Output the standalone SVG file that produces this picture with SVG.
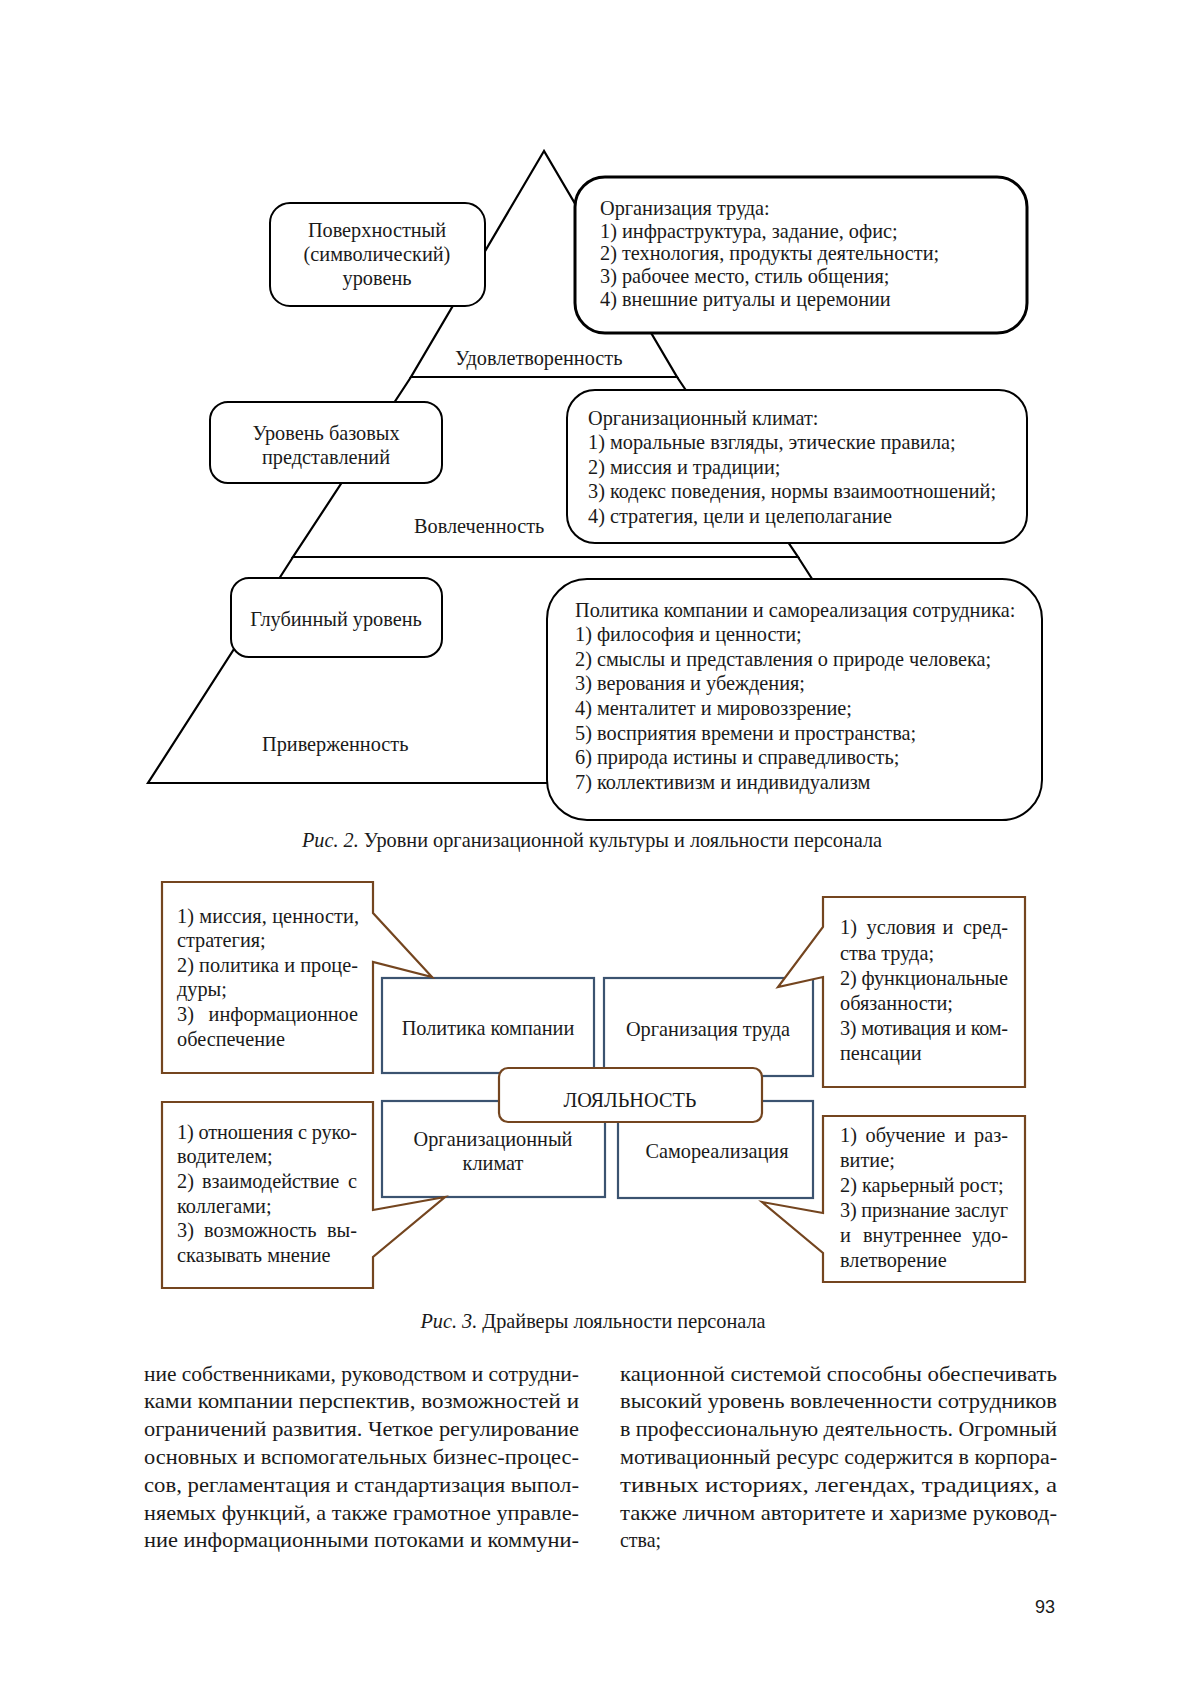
<svg xmlns="http://www.w3.org/2000/svg" width="1200" height="1697" viewBox="0 0 1200 1697">
<style>
text{font-family:"Liberation Serif","Times New Roman",serif;fill:#1a1a1a}
.t{font-size:20.3px}
.c{text-anchor:middle}
.e{text-anchor:end}
.pyr{fill:none;stroke:#000;stroke-width:2.2;stroke-linejoin:miter}
.rb{fill:#fff;stroke:#000;stroke-width:2}
.rb3{fill:#fff;stroke:#000;stroke-width:3}
.bl{fill:#fff;stroke:#3b5370;stroke-width:2.2}
.br{fill:#fff;stroke:#74451f;stroke-width:2.2;stroke-linejoin:miter}
.body{font-size:22px}
.pg{font-family:"Liberation Sans",Arial,sans-serif;font-size:18px}
</style>
<rect width="1200" height="1697" fill="#fff"/>

<g id="pyramid">
<polygon class="pyr" points="544,151 411,377 677,377"/>
<polygon class="pyr" points="411,377 677,377 798,557 293,557"/>
<polygon class="pyr" points="293,557 798,557 943,783 148,783"/>
</g>

<g id="level-surface">
<rect class="rb" x="270" y="203" width="215" height="103" rx="20"/>
<text class="t c" x="377" y="237">Поверхностный</text>
<text class="t c" x="377" y="261">(символический)</text>
<text class="t c" x="377" y="285">уровень</text>
</g>

<g id="org-labor">
<rect class="rb3" x="575" y="177" width="452" height="156" rx="30"/>
<text class="t" x="600" y="215">Организация труда:</text>
<text class="t" x="600" y="238">1) инфраструктура, задание, офис;</text>
<text class="t" x="600" y="260">2) технология, продукты деятельности;</text>
<text class="t" x="600" y="283">3) рабочее место, стиль общения;</text>
<text class="t" x="600" y="306">4) внешние ритуалы и церемонии</text>
</g>

<text class="t" x="455" y="365">Удовлетворенность</text>

<g id="level-basic">
<rect class="rb" x="210" y="402" width="232" height="81" rx="18"/>
<text class="t c" x="326" y="440">Уровень базовых</text>
<text class="t c" x="326" y="464">представлений</text>
</g>

<g id="org-climate">
<rect class="rb" x="567" y="390" width="460" height="153" rx="28"/>
<text class="t" x="588" y="425">Организационный климат:</text>
<text class="t" x="588" y="449">1) моральные взгляды, этические правила;</text>
<text class="t" x="588" y="474">2) миссия и традиции;</text>
<text class="t" x="588" y="498">3) кодекс поведения, нормы взаимоотношений;</text>
<text class="t" x="588" y="523">4) стратегия, цели и целеполагание</text>
</g>

<text class="t" x="414" y="533">Вовлеченность</text>

<g id="level-deep">
<rect class="rb" x="231" y="578" width="211" height="79" rx="18"/>
<text class="t c" x="336" y="626">Глубинный уровень</text>
</g>

<g id="policy">
<rect class="rb" x="547" y="579" width="495" height="241" rx="40"/>
<text class="t" x="575" y="617">Политика компании и самореализация сотрудника:</text>
<text class="t" x="575" y="641">1) философия и ценности;</text>
<text class="t" x="575" y="666">2) смыслы и представления о природе человека;</text>
<text class="t" x="575" y="690">3) верования и убеждения;</text>
<text class="t" x="575" y="715">4) менталитет и мировоззрение;</text>
<text class="t" x="575" y="740">5) восприятия времени и пространства;</text>
<text class="t" x="575" y="764">6) природа истины и справедливость;</text>
<text class="t" x="575" y="789">7) коллективизм и индивидуализм</text>
</g>

<text class="t" x="262" y="751">Приверженность</text>

<text class="t c" x="592" y="847"><tspan font-style="italic">Рис. 2.</tspan> Уровни организационной культуры и лояльности персонала</text>

<g id="connectors"></g>

<g id="box-policy">
<rect class="bl" x="382" y="978" width="212" height="95"/>
<text class="t c" x="488" y="1035">Политика компании</text>
</g>
<g id="box-labor">
<rect class="bl" x="604" y="978" width="209" height="98"/>
<text class="t c" x="708" y="1036">Организация труда</text>
</g>
<g id="box-climate">
<rect class="bl" x="382" y="1101" width="223" height="96"/>
<text class="t c" x="493" y="1146">Организационный</text>
<text class="t c" x="493" y="1170">климат</text>
</g>
<g id="box-self">
<rect class="bl" x="618" y="1101" width="195" height="97"/>
<text class="t c" x="717" y="1158">Самореализация</text>
</g>

<g id="loyalty">
<rect class="br" x="499" y="1068" width="263" height="54" rx="9"/>
<text class="t c" x="630" y="1107">ЛОЯЛЬНОСТЬ</text>
</g>

<g id="callout-policy">
<path class="br" d="M162,882 H373 V913 L432,977 L373,962 V1073 H162 Z"/>
<text class="t" x="177" y="923" textLength="182" lengthAdjust="spacing">1) миссия, ценности,</text>
<text class="t" x="177" y="947">стратегия;</text>
<text class="t" x="177" y="972" textLength="181" lengthAdjust="spacing">2) политика и проце-</text>
<text class="t" x="177" y="996">дуры;</text>
<text class="t" x="177" y="1021">3)</text><text class="t e" x="358" y="1021">информационное</text>
<text class="t" x="177" y="1046">обеспечение</text>
</g>

<g id="callout-labor">
<path class="br" d="M823,897 H1025 V1087 H823 V977 L778,987 L823,927 Z"/>
<text class="t" x="840" y="934">1)</text><text class="t" x="866.5" y="934">условия</text><text class="t" x="942.5" y="934">и</text><text class="t e" x="1008" y="934">сред-</text>
<text class="t" x="840" y="960">ства труда;</text>
<text class="t" x="840" y="985" textLength="168" lengthAdjust="spacing">2) функциональные</text>
<text class="t" x="840" y="1010">обязанности;</text>
<text class="t" x="840" y="1035" textLength="168" lengthAdjust="spacing">3) мотивация и ком-</text>
<text class="t" x="840" y="1060">пенсации</text>
</g>

<g id="callout-climate">
<path class="br" d="M162,1102 H373 V1210 L445,1197 L373,1257 V1288 H162 Z"/>
<text class="t" x="177" y="1139" textLength="180" lengthAdjust="spacing">1) отношения с руко-</text>
<text class="t" x="177" y="1163">водителем;</text>
<text class="t" x="177" y="1188">2)</text><text class="t" x="202" y="1188">взаимодействие</text><text class="t e" x="357" y="1188">с</text>
<text class="t" x="177" y="1213">коллегами;</text>
<text class="t" x="177" y="1237">3)</text><text class="t" x="204" y="1237">возможность</text><text class="t e" x="357" y="1237">вы-</text>
<text class="t" x="177" y="1262">сказывать мнение</text>
</g>

<g id="callout-self">
<path class="br" d="M823,1116 H1025 V1282 H823 V1253 L762,1202 L823,1213 Z"/>
<text class="t" x="840" y="1142">1)</text><text class="t" x="865.5" y="1142">обучение</text><text class="t" x="954.5" y="1142">и</text><text class="t e" x="1008" y="1142">раз-</text>
<text class="t" x="840" y="1167">витие;</text>
<text class="t" x="840" y="1192">2) карьерный рост;</text>
<text class="t" x="840" y="1217" textLength="168" lengthAdjust="spacing">3) признание заслуг</text>
<text class="t" x="840" y="1242">и</text><text class="t" x="863" y="1242">внутреннее</text><text class="t e" x="1008" y="1242">удо-</text>
<text class="t" x="840" y="1267">влетворение</text>
</g>

<text class="t c" x="593" y="1328"><tspan font-style="italic">Рис. 3.</tspan> Драйверы лояльности персонала</text>

<g id="body-text">
<text class="body" x="144" y="1381" textLength="435" lengthAdjust="spacingAndGlyphs">ние собственниками, руководством и сотрудни-</text>
<text class="body" x="144" y="1408" textLength="435" lengthAdjust="spacingAndGlyphs">ками компании перспектив, возможностей и</text>
<text class="body" x="144" y="1436" textLength="435" lengthAdjust="spacingAndGlyphs">ограничений развития. Четкое регулирование</text>
<text class="body" x="144" y="1464" textLength="435" lengthAdjust="spacingAndGlyphs">основных и вспомогательных бизнес-процес-</text>
<text class="body" x="144" y="1492" textLength="435" lengthAdjust="spacingAndGlyphs">сов, регламентация и стандартизация выпол-</text>
<text class="body" x="144" y="1520" textLength="435" lengthAdjust="spacingAndGlyphs">няемых функций, а также грамотное управле-</text>
<text class="body" x="144" y="1547" textLength="435" lengthAdjust="spacingAndGlyphs">ние информационными потоками и коммуни-</text>
<text class="body" x="620" y="1381" textLength="437" lengthAdjust="spacingAndGlyphs">кационной системой способны обеспечивать</text>
<text class="body" x="620" y="1408" textLength="437" lengthAdjust="spacingAndGlyphs">высокий уровень вовлеченности сотрудников</text>
<text class="body" x="620" y="1436" textLength="437" lengthAdjust="spacingAndGlyphs">в профессиональную деятельность. Огромный</text>
<text class="body" x="620" y="1464" textLength="437" lengthAdjust="spacingAndGlyphs">мотивационный ресурс содержится в корпора-</text>
<text class="body" x="620" y="1492" textLength="437" lengthAdjust="spacingAndGlyphs">тивных историях, легендах, традициях, а</text>
<text class="body" x="620" y="1520" textLength="437" lengthAdjust="spacingAndGlyphs">также личном авторитете и харизме руковод-</text>
<text class="body" x="620" y="1547" textLength="41" lengthAdjust="spacingAndGlyphs">ства;</text>
</g>

<text class="pg" x="1045" y="1613" text-anchor="middle">93</text>
</svg>
